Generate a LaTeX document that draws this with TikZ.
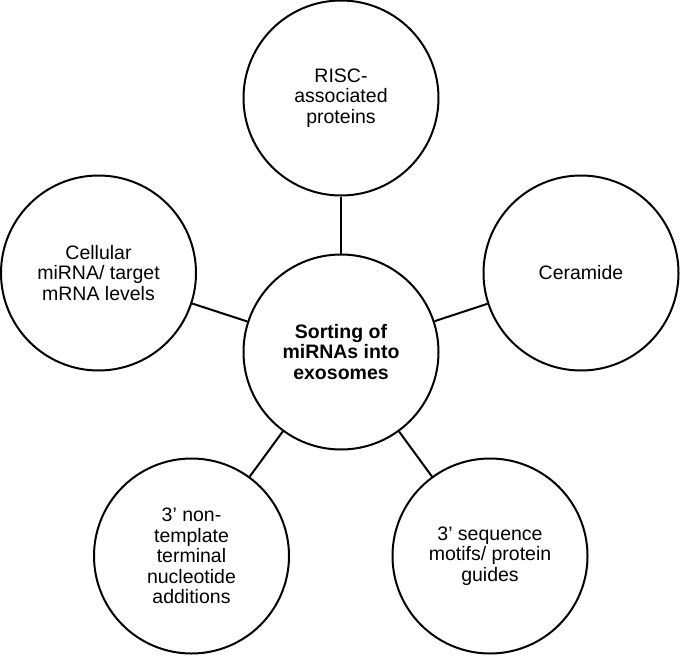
\documentclass[tikz,border=0pt]{standalone}
\usepackage{fontspec}
\setmainfont{Liberation Sans}
\begin{document}
\begin{tikzpicture}[x=1pt,y=-1pt,
  bubble/.style={circle,draw=black,line width=2pt,minimum size=195pt,inner sep=0pt,align=center,
    font=\fontsize{19.5pt}{20.5pt}\selectfont},
  link/.style={draw=black,line width=2pt}]
\useasboundingbox (0,0) rectangle (680,656);
\node[bubble] (c) at (341,352) {\bfseries Sorting of\\\bfseries miRNAs into\\\bfseries exosomes};
\node[bubble] (t) at (341,98) {RISC-\\associated\\proteins};
\node[bubble] (l) at (98.5,273) {Cellular\\miRNA/ target\\mRNA levels};
\node[bubble] (r) at (581,273) {Ceramide};
\node[bubble] (bl) at (191.5,556) {3’ non-\\template\\terminal\\nucleotide\\additions};
\node[bubble] (br) at (490,556) {3’ sequence\\motifs/ protein\\guides};
\draw[link] (c) -- (t);
\draw[link] (c) -- (l);
\draw[link] (c) -- (r);
\draw[link] (c) -- (bl);
\draw[link] (c) -- (br);
\end{tikzpicture}
\end{document}
